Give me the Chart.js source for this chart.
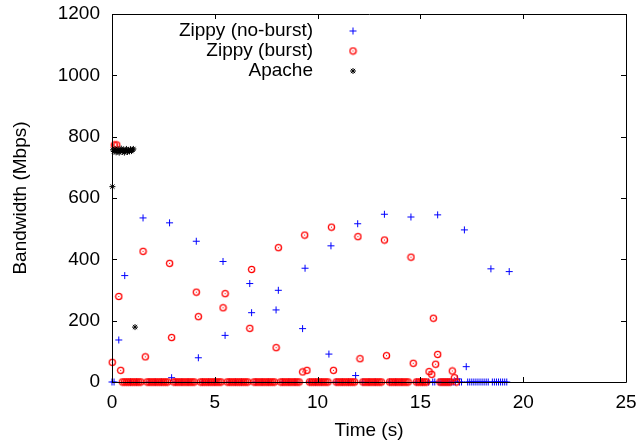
<!DOCTYPE html>
<html lang="en">
<head>
<meta charset="UTF-8">
<title>Bandwidth over time</title>
<script src="https://cdn.jsdelivr.net/npm/chart.js"></script>
<style>
    html, body { margin: 0; padding: 0; background: #fff; }
</style>
</head>
<body>
<canvas id="bwChart" width="638" height="444"></canvas>

<script>
    // series names (legend)
    const seriesNames = ['Zippy (no-burst)', 'Zippy (burst)', 'Apache'];

    // axis ticks
    const timeTicks = [0, 5, 10, 15, 20, 25];
    const bwTicks = [0, 200, 400, 600, 800, 1000, 1200];

    // Zippy (no-burst): samples above zero
    const noBurstTime = [0.33, 0.62, 1.51, 2.80, 2.90, 4.10, 4.20, 5.40, 5.50, 6.70, 6.79, 7.98, 8.09, 9.27, 9.39,
        10.55, 10.65, 11.85, 11.95, 13.25, 14.54, 15.84, 16.80, 17.14, 17.23, 18.43, 19.32];
    const noBurstMbps = [137, 347, 535, 519, 14, 459, 79, 393, 152, 321, 226, 235, 299, 174, 371,
        91, 444, 21, 516, 547, 538, 545, 10, 496, 50, 369, 360];
    // Zippy (no-burst): samples sitting on 0
    const noBurstZeroTime = [0.0, 0.1, 0.9, 1.2, 1.8, 2.1, 2.4, 3.1, 3.4, 3.7, 4.4, 4.7, 5.0, 5.7, 6.0, 6.3,
        7.0, 7.3, 7.6, 8.3, 8.6, 8.9, 9.6, 9.9, 10.2, 10.9, 11.2, 11.5, 12.2, 12.5, 12.8, 13.5, 13.8, 14.1,
        14.8, 15.1, 15.4, 15.6, 15.7, 15.9, 16.0, 16.1, 16.2, 16.3, 16.4, 16.5, 16.6, 16.7, 16.9, 17.0,
        17.3, 17.4, 17.5, 17.6, 17.7, 17.8, 17.9, 18.0, 18.1, 18.2, 18.3, 18.5, 18.6, 18.7, 18.8, 18.9,
        19.0, 19.1, 19.2];

    // Zippy (burst): samples above zero
    const burstTime = [0.01, 0.11, 0.23, 0.33, 0.42, 1.51, 1.62, 2.80, 2.90, 4.10, 4.20, 5.40, 5.50, 6.70, 6.79,
        7.98, 8.09, 9.27, 9.37, 9.48, 10.67, 10.77, 11.96, 12.06, 13.25, 13.35, 14.54, 14.65,
        15.42, 15.55, 15.63, 15.74, 15.84, 16.55, 16.65];
    const burstMbps = [64, 773, 773, 279, 38, 426, 82, 387, 145, 293, 213, 242, 288, 175, 367,
        112, 438, 33, 479, 38, 505, 38, 474, 76, 463, 86, 407, 61,
        34, 25, 208, 58, 90, 36, 14];
    // Zippy (burst): samples sitting on 0
    const burstZeroTime = [0.5, 0.6, 0.7, 0.8, 0.9, 1.0, 1.1, 1.2, 1.3, 1.4,
        1.7, 1.8, 1.9, 2.0, 2.1, 2.2, 2.3, 2.4, 2.5, 2.6, 2.7,
        3.0, 3.1, 3.2, 3.3, 3.4, 3.5, 3.6, 3.7, 3.8, 3.9, 4.0,
        4.3, 4.4, 4.5, 4.6, 4.7, 4.8, 4.9, 5.0, 5.1, 5.2, 5.3,
        5.6, 5.7, 5.8, 5.9, 6.0, 6.1, 6.2, 6.3, 6.4, 6.5, 6.6,
        6.9, 7.0, 7.1, 7.2, 7.3, 7.4, 7.5, 7.6, 7.7, 7.8, 7.9,
        8.2, 8.3, 8.4, 8.5, 8.6, 8.7, 8.8, 8.9, 9.0, 9.1,
        9.6, 9.7, 9.8, 9.9, 10.0, 10.1, 10.2, 10.3, 10.4, 10.5,
        10.9, 11.0, 11.1, 11.2, 11.3, 11.4, 11.5, 11.6, 11.7, 11.8,
        12.2, 12.3, 12.4, 12.5, 12.6, 12.7, 12.8, 12.9, 13.0, 13.1,
        13.5, 13.6, 13.7, 13.8, 13.9, 14.0, 14.1, 14.2, 14.3, 14.4,
        14.8, 14.9, 15.0, 15.1, 15.2, 15.3,
        15.95, 16.05, 16.15, 16.25, 16.35, 16.45, 16.75];

    // Apache
    const apacheTime = [0.02, 0.05, 0.10, 0.15, 0.20, 0.25, 0.30, 0.35, 0.40, 0.45, 0.50, 0.55, 0.60,
        0.65, 0.70, 0.75, 0.80, 0.85, 0.90, 0.95, 1.00, 1.04, 1.12];
    const apacheMbps = [637, 757, 752, 760, 749, 755, 758, 748, 754, 761, 751, 757, 748,
        755, 760, 750, 756, 752, 759, 753, 757, 760, 179];

    const toPoints = (xs, ys) => xs.map((x, i) => ({ x: x, y: ys[i] }));
    const zeroPoints = xs => xs.map(x => ({ x: x, y: 0 }));

    // gnuplot style circle with a dot in the middle
    function makeRing(color) {
        const c = document.createElement('canvas');
        c.width = 9;
        c.height = 9;
        const g = c.getContext('2d');
        g.strokeStyle = color;
        g.lineWidth = 1.3;
        g.beginPath();
        g.arc(4.5, 4.5, 3.1, 0, Math.PI * 2);
        g.stroke();
        g.fillStyle = color;
        g.fillRect(4, 4, 1, 1);
        return c;
    }
    const ring = makeRing('#ff0000');

    const FONT = '"Liberation Sans", Arial, sans-serif';

    // drop the label overflow padding so the plot box lands where we want it
    const noPad = s => { s.paddingTop = 0; s.paddingBottom = 0; s.paddingLeft = 0; s.paddingRight = 0; };

    // border box + inward (mirrored) ticks like gnuplot
    const framePlugin = {
        id: 'frame',
        afterDatasetsDraw(chart) {
            const { ctx, chartArea: a, scales } = chart;
            const len = 5;
            ctx.save();
            ctx.strokeStyle = '#000';
            ctx.lineWidth = 1;
            ctx.beginPath();
            ctx.rect(Math.round(a.left) + 0.5, Math.round(a.top) + 0.5,
                Math.round(a.right - a.left), Math.round(a.bottom - a.top));
            timeTicks.forEach(v => {
                const px = Math.round(scales.x.getPixelForValue(v)) + 0.5;
                ctx.moveTo(px, a.bottom);
                ctx.lineTo(px, a.bottom - len);
                ctx.moveTo(px, a.top);
                ctx.lineTo(px, a.top + len);
            });
            bwTicks.forEach(v => {
                const py = Math.round(scales.y.getPixelForValue(v)) + 0.5;
                ctx.moveTo(a.left, py);
                ctx.lineTo(a.left + len, py);
                ctx.moveTo(a.right, py);
                ctx.lineTo(a.right - len, py);
            });
            ctx.stroke();
            ctx.restore();
        }
    };

    // key in the top of the plot: text right aligned, sample to the right
    const keyPlugin = {
        id: 'key',
        afterDraw(chart) {
            const { ctx } = chart;
            const textRight = 313, markX = 353, rowY = [31, 51, 71];
            ctx.save();
            ctx.font = '19px ' + FONT;
            ctx.textAlign = 'right';
            ctx.textBaseline = 'middle';
            chart.data.datasets.forEach((ds, i) => {
                ctx.fillStyle = '#000';
                ctx.fillText(ds.label, textRight, rowY[i]);
                ctx.strokeStyle = ds.borderColor;
                ctx.fillStyle = ds.borderColor;
                ctx.lineWidth = 1;
                Chart.helpers.drawPoint(ctx, {
                    pointStyle: ds.pointStyle, radius: ds.pointRadius, rotation: 0, borderWidth: 1
                }, markX, rowY[i]);
            });
            ctx.restore();
        }
    };

    const ctx = document.getElementById('bwChart').getContext('2d');
    new Chart(ctx, {
        type: 'scatter',
        data: {
            datasets: [
                {
                    label: seriesNames[0],
                    data: toPoints(noBurstTime, noBurstMbps).concat(zeroPoints(noBurstZeroTime)),
                    pointStyle: 'cross',
                    pointRadius: 3.5,
                    borderColor: '#0000ff',
                    backgroundColor: '#0000ff',
                    borderWidth: 1,
                    clip: false,
                    order: 3
                },
                {
                    label: seriesNames[1],
                    data: toPoints(burstTime, burstMbps).concat(zeroPoints(burstZeroTime)),
                    pointStyle: ring,
                    pointRadius: 4,
                    borderColor: '#ff0000',
                    backgroundColor: '#ff0000',
                    borderWidth: 1,
                    clip: false,
                    order: 2
                },
                {
                    label: seriesNames[2],
                    data: toPoints(apacheTime, apacheMbps),
                    pointStyle: 'star',
                    pointRadius: 3,
                    borderColor: '#000000',
                    backgroundColor: '#000000',
                    borderWidth: 1,
                    clip: false,
                    order: 1
                }
            ]
        },
        options: {
            responsive: false,
            animation: false,
            events: [],
            layout: { padding: { top: 14, right: 12, left: 0, bottom: 0 } },
            plugins: {
                legend: { display: false },
                tooltip: { enabled: false }
            },
            scales: {
                x: {
                    type: 'linear',
                    min: 0,
                    max: 25,
                    afterFit: s => { s.height = 62; noPad(s); },
                    afterBuildTicks: s => { s.ticks = timeTicks.map(v => ({ value: v })); },
                    grid: { display: false, drawTicks: false },
                    border: { display: false },
                    ticks: {
                        padding: 9, color: '#000', font: { family: FONT, size: 19 }, maxRotation: 0,
                        callback: v => String(v)
                    },
                    title: {
                        display: true, text: 'Time (s)', color: '#000',
                        font: { family: FONT, size: 19 }, padding: { top: 0, bottom: 2 }
                    }
                },
                y: {
                    min: 0,
                    max: 1200,
                    afterFit: s => { s.width = 112; noPad(s); },
                    afterBuildTicks: s => { s.ticks = bwTicks.map(v => ({ value: v })); },
                    grid: { display: false, drawTicks: false },
                    border: { display: false },
                    ticks: {
                        padding: 12, color: '#000', font: { family: FONT, size: 19 },
                        callback: v => String(v)
                    },
                    title: {
                        display: true, text: 'Bandwidth (Mbps)', color: '#000',
                        font: { family: FONT, size: 19 }, padding: { top: 9, bottom: 0 }
                    }
                }
            }
        },
        plugins: [framePlugin, keyPlugin]
    });
</script>
</body>
</html>
